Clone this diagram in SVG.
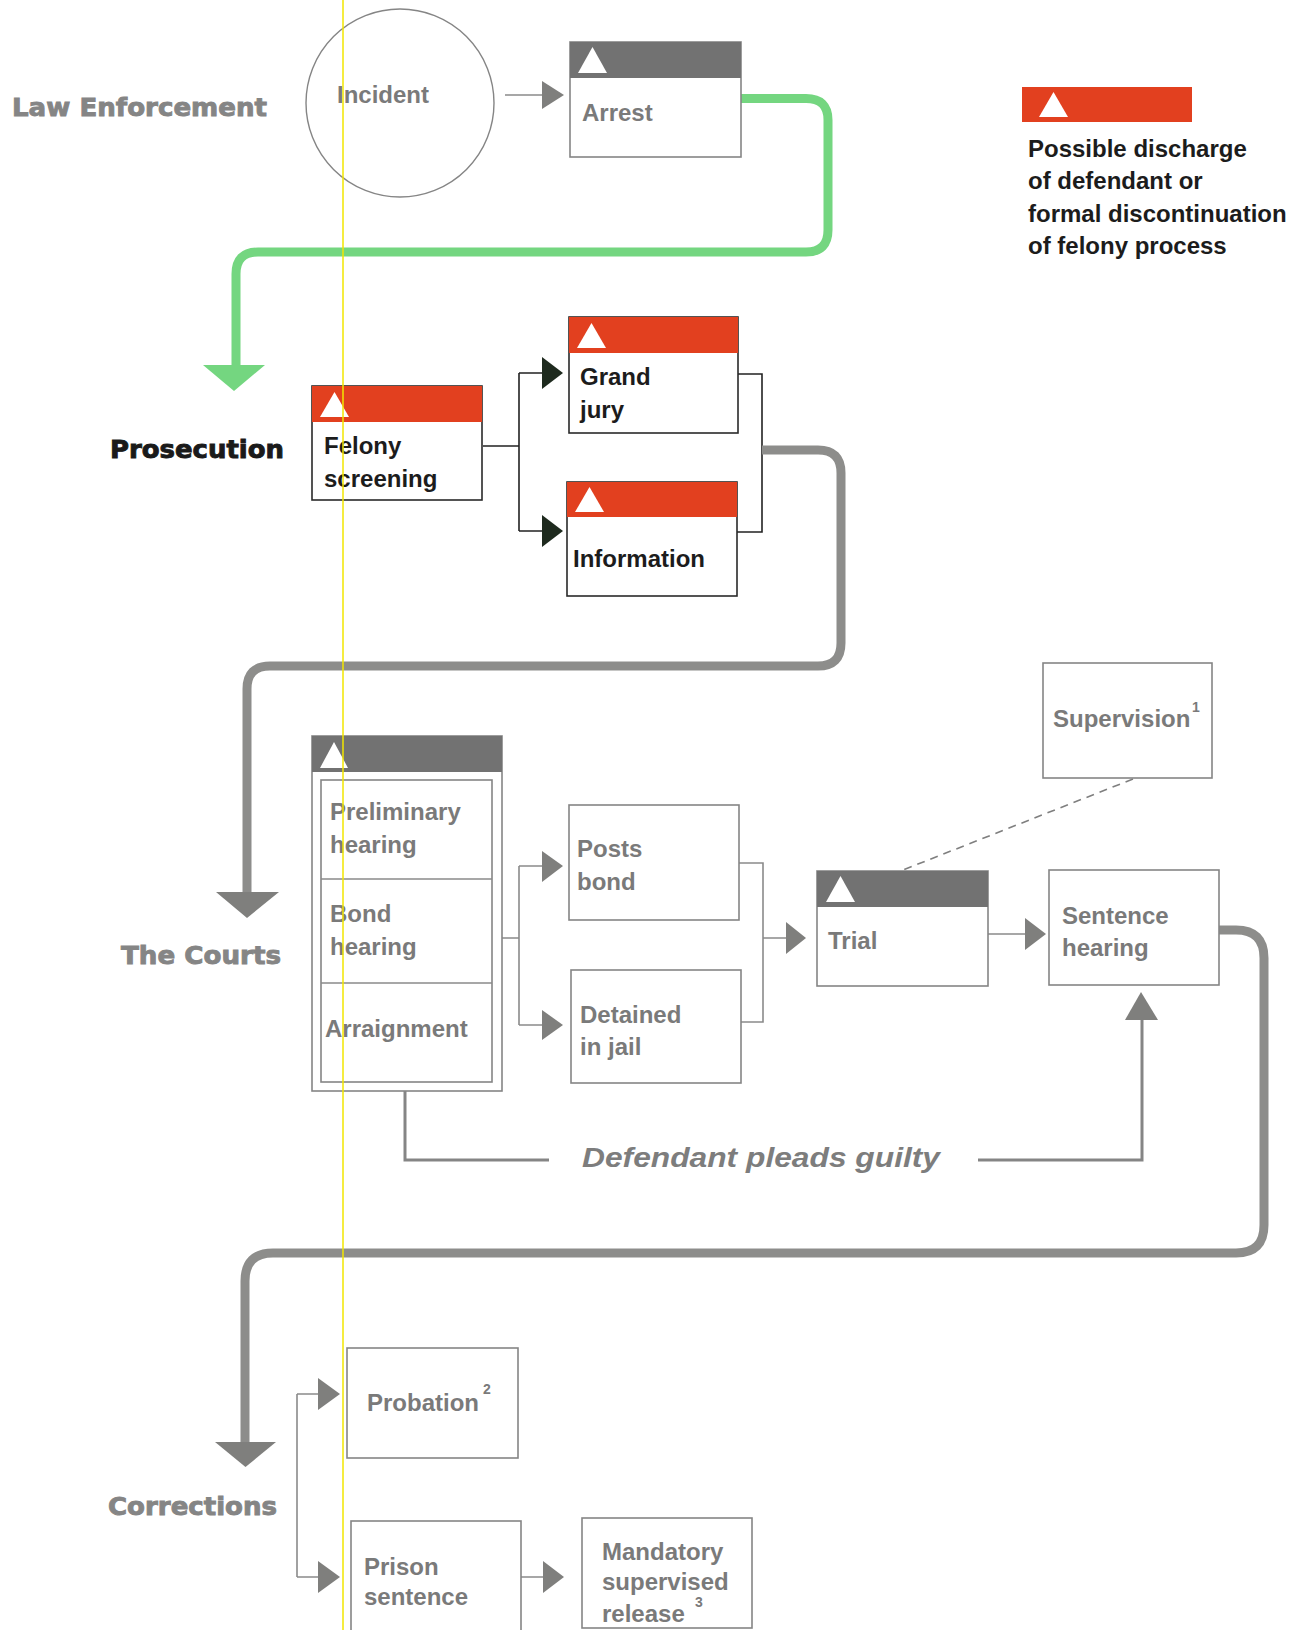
<svg xmlns="http://www.w3.org/2000/svg" width="1305" height="1630" viewBox="0 0 1305 1630">
<style>
.box{fill:#fff;stroke:#858585;stroke-width:1.6}
.pbox{fill:#fff;stroke:#2a2a2a;stroke-width:1.6}
.hg{fill:#727272}
.hr{fill:#e2401f}
.tri{fill:#fff}
.t{font-family:"Liberation Sans",Arial,sans-serif;font-weight:bold;font-size:24px;fill:#7a7a7a}
.tp{fill:#1c1c1c}
.sup{font-size:14px}
.sec{font-family:"DejaVu Sans",sans-serif;font-weight:bold;font-size:25px;fill:#858585;stroke:#858585;stroke-width:0.9}
.ln{stroke:#8a8a8a;stroke-width:1.6;fill:none}
.lnp{stroke:#222;stroke-width:1.6;fill:none}
.ah{fill:#7f7f7d}
.ahp{fill:#1e2a1e}
.thick{fill:none;stroke:#8d8d8b;stroke-width:9}
.green{fill:none;stroke:#74d680;stroke-width:9}
</style>
<rect width="1305" height="1630" fill="#fff"/>

<g id="labels">
<text class="sec" x="12" y="116" textLength="255" lengthAdjust="spacingAndGlyphs">Law Enforcement</text>
<text class="sec" x="110" y="458" textLength="174" lengthAdjust="spacingAndGlyphs" style="fill:#1a1a1a;stroke:#1a1a1a">Prosecution</text>
<text class="sec" x="121" y="964" textLength="160" lengthAdjust="spacingAndGlyphs">The Courts</text>
<text class="sec" x="108" y="1515" textLength="169" lengthAdjust="spacingAndGlyphs">Corrections</text>
</g>

<g id="connectors">
<path class="green" d="M741,98.5 H806 Q828,98.5 828,120 V230 Q828,252 806,252 H258 Q236,252 236,274 V366"/>
<polygon points="203,365 265,365 234,391" fill="#74d680"/>
<line class="ln" x1="505" y1="95" x2="542" y2="95"/>
<polygon class="ah" points="542,81 564,95 542,109"/>
<path class="lnp" d="M483,446 H519 M519,373 V531 M519,373 H543 M519,531 H543 M738,374 H762 V532 H737"/>
<polygon class="ahp" points="542,357 563,373 542,389"/>
<polygon class="ahp" points="542,515 563,531 542,547"/>
<path class="thick" d="M762,450 H818 Q841,450 841,473 V643 Q841,666 818,666 H270 Q247,666 247,689 V894"/>
<polygon class="ah" points="216,892 279,892 247,918"/>
<path class="ln" d="M502,938 H519 M519,866 V1025 M519,866 H543 M519,1025 H543 M739,863 H763 V1022 H741 M763,938 H786"/>
<polygon class="ah" points="542,851 563,866 542,882"/>
<polygon class="ah" points="542,1010 563,1025 542,1040"/>
<polygon class="ah" points="786,922 806,938 786,954"/>
<line class="ln" x1="988" y1="934" x2="1026" y2="934"/>
<polygon class="ah" points="1025,918 1046,934 1025,950"/>
<line x1="1133" y1="779" x2="903" y2="870" stroke="#7f7f7f" stroke-width="1.6" stroke-dasharray="8,6"/>
<path d="M405,1091 V1160 H549 M978,1160 H1142 V1020" fill="none" stroke="#858585" stroke-width="3"/>
<polygon class="ah" points="1125,1020 1158,1020 1141,992"/>
<path class="thick" d="M1219,930 H1236 Q1264,930 1264,958 V1225 Q1264,1253 1236,1253 H273 Q245,1253 245,1281 V1444"/>
<polygon class="ah" points="215,1442 276,1442 245.5,1467"/>
<path class="ln" d="M297,1394 V1577 M297,1394 H320 M297,1577 H320 M521,1577 H544"/>
<polygon class="ah" points="318,1378 340,1394 318,1410"/>
<polygon class="ah" points="318,1561 340,1577 318,1593"/>
<polygon class="ah" points="543,1561 564,1577 543,1593"/>
</g>

<g id="incident">
<circle cx="400" cy="103" r="94" fill="none" stroke="#858585" stroke-width="1.4"/>
<text class="t" x="337" y="103">Incident</text>
</g>

<g id="arrest">
<rect class="box" x="570" y="42" width="171" height="115"/>
<rect class="hg" x="570" y="42" width="171" height="36"/>
<polygon class="tri" points="578,73 592.5,47 607,73"/>
<text class="t" x="582" y="121">Arrest</text>
</g>

<g id="legend">
<rect class="hr" x="1022" y="87" width="170" height="35"/>
<polygon class="tri" points="1039,117 1053.5,92 1068,117"/>
<text class="t tp" x="1028" y="157">Possible discharge</text>
<text class="t tp" x="1028" y="189">of defendant or</text>
<text class="t tp" x="1028" y="222">formal discontinuation</text>
<text class="t tp" x="1028" y="254">of felony process</text>
</g>

<g id="felony">
<rect class="pbox" x="312" y="386" width="170" height="114"/>
<rect class="hr" x="312" y="386" width="170" height="36"/>
<polygon class="tri" points="320,417 334.5,392 349,417"/>
<text class="t tp" x="324" y="454">Felony</text>
<text class="t tp" x="324" y="487">screening</text>
</g>

<g id="grandjury">
<rect class="pbox" x="569" y="317" width="169" height="116"/>
<rect class="hr" x="569" y="317" width="169" height="36"/>
<polygon class="tri" points="577,348 591.5,323 606,348"/>
<text class="t tp" x="580" y="385">Grand</text>
<text class="t tp" x="580" y="418">jury</text>
</g>

<g id="information">
<rect class="pbox" x="567" y="482" width="170" height="114"/>
<rect class="hr" x="567" y="482" width="170" height="35"/>
<polygon class="tri" points="575,512 589.5,487 604,512"/>
<text class="t tp" x="573" y="567">Information</text>
</g>

<g id="courts">
<rect class="box" x="312" y="736" width="190" height="355"/>
<rect class="hg" x="312" y="736" width="190" height="36"/>
<polygon class="tri" points="320,768 334,742 348,768"/>
<rect class="box" x="321" y="780" width="171" height="302"/>
<line class="ln" x1="321" y1="879" x2="492" y2="879"/>
<line class="ln" x1="321" y1="983" x2="492" y2="983"/>
<text class="t" x="330" y="820">Preliminary</text>
<text class="t" x="330" y="853">hearing</text>
<text class="t" x="330" y="922">Bond</text>
<text class="t" x="330" y="955">hearing</text>
<text class="t" x="325" y="1037">Arraignment</text>
</g>

<g id="postsbond">
<rect class="box" x="569" y="805" width="170" height="115"/>
<text class="t" x="577" y="857">Posts</text>
<text class="t" x="577" y="890">bond</text>
</g>

<g id="detained">
<rect class="box" x="571" y="970" width="170" height="113"/>
<text class="t" x="580" y="1023">Detained</text>
<text class="t" x="580" y="1055">in jail</text>
</g>

<g id="trial">
<rect class="box" x="817" y="871" width="171" height="115"/>
<rect class="hg" x="817" y="871" width="171" height="36"/>
<polygon class="tri" points="826,902 840.5,876 855,902"/>
<text class="t" x="828" y="949">Trial</text>
</g>

<g id="supervision">
<rect class="box" x="1043" y="663" width="169" height="115"/>
<text class="t" x="1053" y="727">Supervision</text>
<text class="t sup" x="1192" y="712">1</text>
</g>

<g id="sentence">
<rect class="box" x="1049" y="870" width="170" height="115"/>
<text class="t" x="1062" y="924">Sentence</text>
<text class="t" x="1062" y="956">hearing</text>
</g>

<g id="guilty">
<text class="t" x="582" y="1167" style="font-style:italic;font-size:28px;fill:#7d7d7d" textLength="358" lengthAdjust="spacingAndGlyphs">Defendant pleads guilty</text>
</g>

<g id="probation">
<rect class="box" x="347" y="1348" width="171" height="110"/>
<text class="t" x="367" y="1411">Probation</text>
<text class="t sup" x="483" y="1394">2</text>
</g>

<g id="prison">
<rect class="box" x="351" y="1521" width="170" height="120"/>
<text class="t" x="364" y="1575">Prison</text>
<text class="t" x="364" y="1605">sentence</text>
</g>

<g id="mandatory">
<rect class="box" x="582" y="1518" width="170" height="110"/>
<text class="t" x="602" y="1560">Mandatory</text>
<text class="t" x="602" y="1590">supervised</text>
<text class="t" x="602" y="1622">release</text>
<text class="t sup" x="695" y="1607">3</text>
</g>

<line x1="343" y1="0" x2="343" y2="1630" stroke="#f2e600" stroke-width="1.5"/>
</svg>
